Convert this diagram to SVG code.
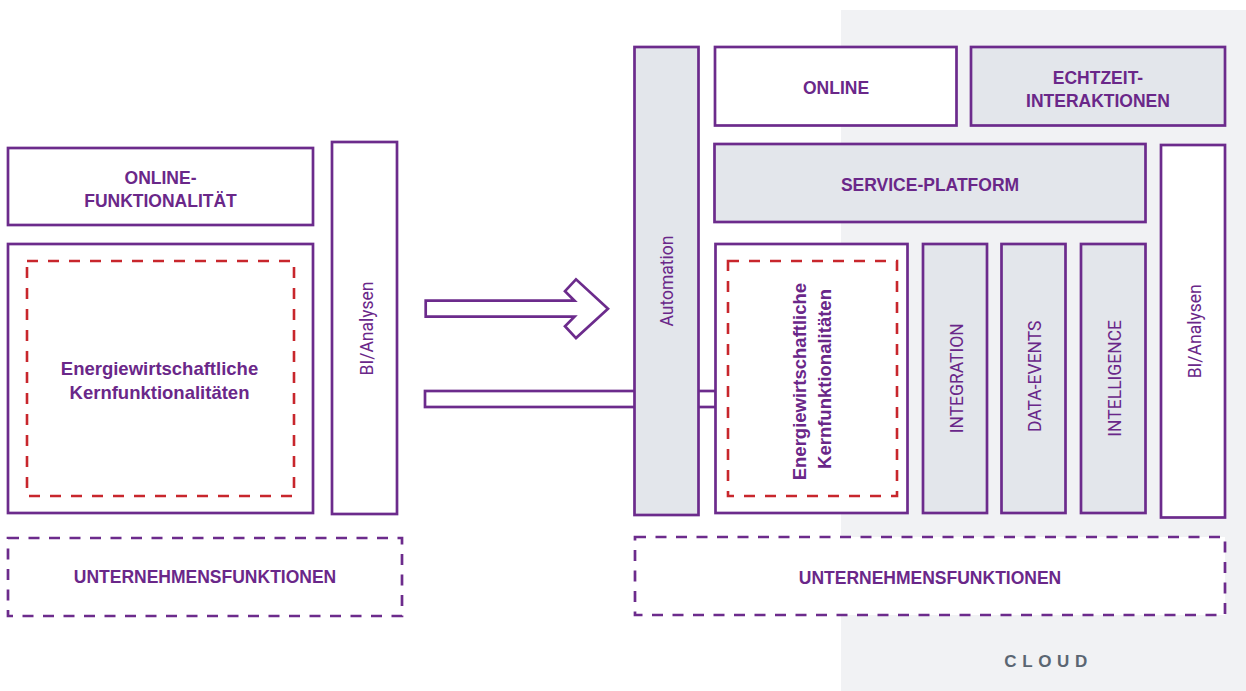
<svg xmlns="http://www.w3.org/2000/svg" width="1246" height="691" viewBox="0 0 1246 691">
  <style>
    .box{fill:#fff;stroke:#6c2b8c;stroke-width:2.7}
    .grey{fill:#e3e6eb}
    .dash{fill:#fff;stroke:#6c2b8c;stroke-width:2.7;stroke-dasharray:11 9.5}
    .core{fill:none;stroke:#c8262c;stroke-width:2.6;stroke-dasharray:11 10}
    .lbl{font-family:"Liberation Sans",Arial,sans-serif;font-weight:700;font-size:17.5px;fill:#6a2789;text-anchor:middle}
    .core-lbl{font-size:18.5px}
    .vert{font-family:Roboto,"Liberation Sans",sans-serif;font-weight:400;font-size:17.5px;fill:#6a2789;text-anchor:middle}
    .cloud{font-family:"Liberation Sans",Arial,sans-serif;font-weight:700;font-size:17px;fill:#5b6672;text-anchor:middle;letter-spacing:5.6px}
  </style>

  <!-- cloud zone -->
  <rect id="cloud-zone" x="841" y="10" width="405" height="681" fill="#f1f2f4"/>

  <!-- connectors -->
  <g id="connectors">
    <path class="box" d="M425.7,300.7 L574.5,300.7 L565,291.2 L576,279.3 L608,308.7 L576,338.1 L565,326.2 L574.5,316.7 L425.7,316.7 Z"/>
    <rect class="box" x="425" y="391" width="291" height="16"/>
  </g>

  <!-- current landscape -->
  <g id="online-funktionalitaet">
    <rect class="box" x="8" y="148" width="305" height="77"/>
    <text class="lbl" x="160.5" y="183.5">ONLINE-</text>
    <text class="lbl" x="160.5" y="207">FUNKTIONALITÄT</text>
  </g>
  <g id="bi-analysen-left">
    <rect class="box" x="332" y="142" width="65" height="372"/>
    <text class="vert" transform="translate(372.5,328.5) rotate(-90)">BI/Analysen</text>
  </g>
  <g id="kern-left">
    <rect class="box" x="8" y="244" width="305" height="269"/>
    <rect class="core" x="27" y="261" width="267" height="235"/>
    <text class="lbl core-lbl" x="159.5" y="375">Energiewirtschaftliche</text>
    <text class="lbl core-lbl" x="159.5" y="399">Kernfunktionalitäten</text>
  </g>
  <g id="unternehmen-left">
    <rect class="dash" x="8" y="538" width="394" height="78"/>
    <text class="lbl" x="205" y="582.5">UNTERNEHMENSFUNKTIONEN</text>
  </g>

  <!-- target landscape -->
  <g id="automation">
    <rect class="box grey" x="634.5" y="47" width="64" height="468"/>
    <text class="vert" transform="translate(673.3,281) rotate(-90)">Automation</text>
  </g>
  <g id="online">
    <rect class="box" x="715" y="47" width="241.5" height="78.5"/>
    <text class="lbl" x="836" y="94">ONLINE</text>
  </g>
  <g id="echtzeit">
    <rect class="box grey" x="971" y="47" width="254" height="78.5"/>
    <text class="lbl" x="1098" y="83.5">ECHTZEIT-</text>
    <text class="lbl" x="1098" y="107">INTERAKTIONEN</text>
  </g>
  <g id="service-platform">
    <rect class="box grey" x="714.5" y="144" width="431" height="78"/>
    <text class="lbl" x="930" y="191">SERVICE-PLATFORM</text>
  </g>
  <g id="bi-analysen-right">
    <rect class="box" x="1161" y="145" width="64" height="372.5"/>
    <text class="vert" transform="translate(1201,331.3) rotate(-90)">BI/Analysen</text>
  </g>
  <g id="kern-right">
    <rect class="box" x="715.5" y="244" width="192" height="269"/>
    <rect class="core" x="728" y="261" width="169" height="235"/>
    <text class="lbl core-lbl" transform="translate(806,379) rotate(-90)">
      <tspan x="0" y="0">Energiewirtschaftliche</tspan>
      <tspan x="0" y="25">Kernfunktionalitäten</tspan>
    </text>
  </g>
  <g id="integration">
    <rect class="box grey" x="923" y="244" width="64" height="269"/>
    <text class="vert" transform="translate(962.7,378.3) rotate(-90)">INTEGRATION</text>
  </g>
  <g id="data-events">
    <rect class="box grey" x="1001.5" y="244" width="64" height="269"/>
    <text class="vert" transform="translate(1041,376.3) rotate(-90)">DATA-EVENTS</text>
  </g>
  <g id="intelligence">
    <rect class="box grey" x="1081" y="244" width="64.5" height="269"/>
    <text class="vert" transform="translate(1121,378.3) rotate(-90)">INTELLIGENCE</text>
  </g>
  <g id="unternehmen-right">
    <rect class="dash" x="635" y="537" width="590" height="78"/>
    <text class="lbl" x="930" y="584">UNTERNEHMENSFUNKTIONEN</text>
  </g>

  <text class="cloud" x="1048.6" y="666.7">CLOUD</text>
</svg>
